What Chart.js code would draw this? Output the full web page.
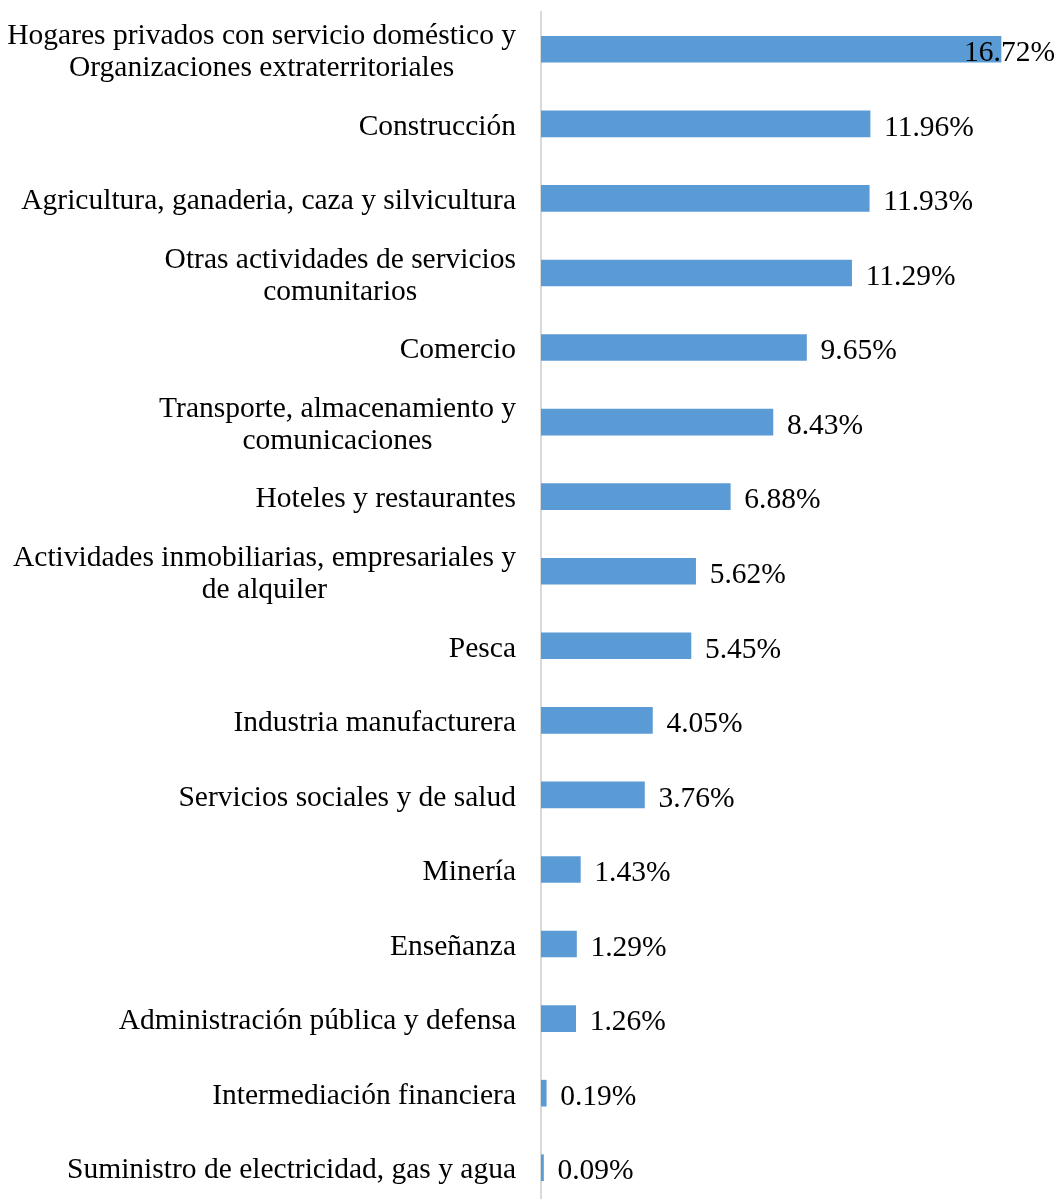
<!DOCTYPE html>
<html>
<head>
<meta charset="utf-8">
<script src="https://cdn.jsdelivr.net/npm/chart.js@4.4.0/dist/chart.umd.min.js"></script>
<style>
  html, body { margin: 0; padding: 0; background: #fff; overflow: hidden; }
</style>
</head>
<body>
<canvas id="sectores" width="1058" height="1205"></canvas>
<script>
const categories = [
  ['Hogares privados con servicio doméstico y', 'Organizaciones extraterritoriales'],
  ['Construcción'],
  ['Agricultura, ganaderia, caza y silvicultura'],
  ['Otras actividades de servicios', 'comunitarios'],
  ['Comercio'],
  ['Transporte, almacenamiento y', 'comunicaciones'],
  ['Hoteles y restaurantes'],
  ['Actividades inmobiliarias, empresariales y', 'de alquiler'],
  ['Pesca'],
  ['Industria manufacturera'],
  ['Servicios sociales y de salud'],
  ['Minería'],
  ['Enseñanza'],
  ['Administración pública y defensa'],
  ['Intermediación financiera'],
  ['Suministro de electricidad, gas y agua']
];
const values = [16.72, 11.96, 11.93, 11.29, 9.65, 8.43, 6.88, 5.62, 5.45, 4.05, 3.76, 1.43, 1.29, 1.26, 0.19, 0.09];
const valueLabels = ['16.72%', '11.96%', '11.93%', '11.29%', '9.65%', '8.43%', '6.88%', '5.62%', '5.45%', '4.05%', '3.76%', '1.43%', '1.29%', '1.26%', '0.19%', '0.09%'];

const fontFace = '29.5px "Liberation Serif", "Times New Roman", serif';

// Excel style labels: block right aligned, lines centred inside the block
const labelsPlugin = {
  id: 'labelsPlugin',
  afterDraw(chart) {
    const ctx = chart.ctx;
    const y = chart.scales.y;
    const x = chart.scales.x;
    const meta = chart.getDatasetMeta(0);
    ctx.save();
    ctx.font = fontFace;
    ctx.fillStyle = '#000';
    ctx.textBaseline = 'middle';

    const lineH = 32;
    categories.forEach((lines, i) => {
      const cy = y.getPixelForValue(i) + 3;
      let widest = 0;
      lines.forEach(l => { widest = Math.max(widest, ctx.measureText(l).width); });
      const cx = chart.chartArea.left - 25 - widest / 2;
      ctx.textAlign = 'center';
      lines.forEach((l, k) => {
        ctx.fillText(l, cx, cy + (k - (lines.length - 1) / 2) * lineH);
      });
    });

    ctx.textAlign = 'left';
    meta.data.forEach((bar, i) => {
      const txt = valueLabels[i];
      const w = ctx.measureText(txt).width;
      let tx = x.getPixelForValue(values[i]) + 14;
      if (tx + w > chart.width - 3) tx = chart.width - 3 - w;
      ctx.fillText(txt, tx, bar.y + 4);
    });
    ctx.restore();
  }
};

new Chart(document.getElementById('sectores'), {
  type: 'bar',
  data: {
    labels: categories,
    datasets: [{
      data: values,
      backgroundColor: '#5B9BD5',
      borderWidth: 0,
      barThickness: 26
    }]
  },
  options: {
    indexAxis: 'y',
    responsive: false,
    animation: false,
    devicePixelRatio: 1,
    layout: { padding: { top: 12, right: 8, bottom: 0, left: 0 } },
    plugins: {
      legend: { display: false },
      tooltip: { enabled: false }
    },
    scales: {
      x: {
        display: false,
        min: 0,
        max: 18.5
      },
      y: {
        grid: { display: false },
        border: { display: true, color: '#d9d9d9', width: 2 },
        ticks: { display: false },
        afterFit(scale) { scale.width = 541; }
      }
    }
  },
  plugins: [labelsPlugin]
});
</script>
</body>
</html>
